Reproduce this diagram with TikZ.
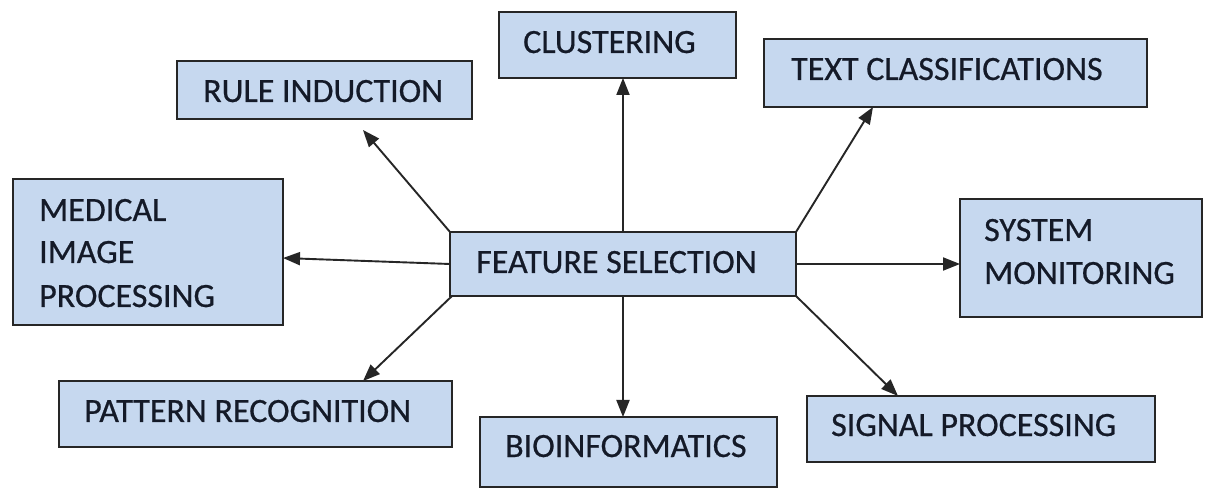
\documentclass[tikz,border=0pt]{standalone}
\usepackage{fontspec}
\setmainfont{Carlito}
\newfontfamily\lblfont{Carlito}[FakeBold=0.6]
\usetikzlibrary{arrows.meta,calc}
\definecolor{boxfill}{HTML}{C6D8EF}
\definecolor{boxline}{HTML}{262626}
\definecolor{txt}{HTML}{141A28}
\begin{document}
\begin{tikzpicture}[x=1pt,y=-1pt,
  box/.style={draw=boxline, line width=2pt, fill=boxfill, rectangle, inner sep=0pt, outer sep=0pt, anchor=north west},
  lbl/.style={text=txt, font=\lblfont\fontsize{34}{40}\selectfont, inner sep=0pt, anchor=base west},
  arr/.style={draw=boxline, line width=1.9pt, -{Triangle[length=17pt,width=13pt]}}]
\useasboundingbox (0,0) rectangle (1205,502);
\fill[white] (0,0) rectangle (1205,502);
% boxes
\node[box, minimum width=237pt, minimum height=66pt] (cl) at (499,12) {};
\node[box, minimum width=295pt, minimum height=58pt] (ri) at (177,61) {};
\node[box, minimum width=383pt, minimum height=68pt] (tc) at (764,39) {};
\node[box, minimum width=270pt, minimum height=146pt] (mip) at (13,179) {};
\node[box, minimum width=346pt, minimum height=64pt] (fs) at (450,232) {};
\node[box, minimum width=242pt, minimum height=118pt] (sm) at (960,199) {};
\node[box, minimum width=393pt, minimum height=66pt] (pr) at (59,381) {};
\node[box, minimum width=297pt, minimum height=70pt] (bio) at (480,417) {};
\node[box, minimum width=348pt, minimum height=66pt] (sp) at (807,396) {};
% labels
\node[lbl] (tcl) at (523,53) {CLUSTERING};
\node[lbl] (tri) at (203,102) {RULE INDUCTION};
\node[lbl] (ttc) at (791,80) {TEXT CLASSIFICATIONS};
\node[lbl] (tmip1) at (39,221) {MEDICAL};
\node[lbl] (tmip2) at (39,263) {IMAGE};
\node[lbl] (tmip3) at (39,307) {PROCESSING};
\node[lbl] (tfs) at (476,273) {FEATURE SELECTION};
\node[lbl] (tsm1) at (984,241) {SYSTEM};
\node[lbl] (tsm2) at (984,284) {MONITORING};
\node[lbl] (tpr) at (84,422) {PATTERN RECOGNITION};
\node[lbl] (tbio) at (505,457) {BIOINFORMATICS};
\node[lbl] (tsp) at (831,436) {SIGNAL PROCESSING};
% arrows
\draw[arr] (fs.north) -- (fs.north |- cl.south);
\draw[arr] (fs.north west) -- ($(ri.south west)+(186,11)$);
\draw[arr] (fs.north east) -- ($(tc.south west)+(109,0)$);
\draw[arr] (fs.east) -- (fs.east -| sm.west);
\draw[arr] (fs.west) -- ($(mip.east)+(0,6)$);
\draw[arr] ($(fs.south west)+(2,0)$) -- ($(pr.north east)+(-89,0)$);
\draw[arr] (fs.south) -- (fs.south |- bio.north);
\draw[arr] (fs.south east) -- ($(sp.north west)+(91,0)$);
\end{tikzpicture}
\end{document}
